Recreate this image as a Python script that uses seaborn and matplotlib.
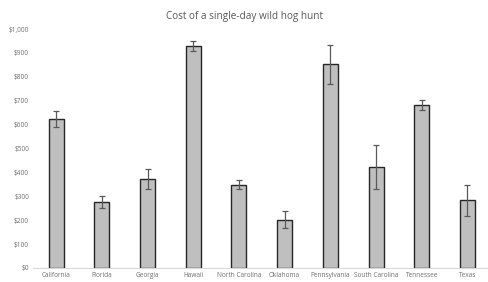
import pandas as pd
import matplotlib
matplotlib.use("Agg")
import matplotlib.pyplot as plt
import seaborn as sns
from matplotlib.ticker import FuncFormatter

# values
states = ["California", "Florida", "Georgia", "Hawaii", "North Carolina",
          "Oklahoma", "Pennsylvania", "South Carolina", "Tennessee", "Texas"]
cost = [622, 275, 372, 929, 349, 202, 852, 424, 683, 283]
err = [33, 24, 40, 20, 20, 37, 81, 92, 22, 64]

df = pd.DataFrame({"state": states, "cost": cost})

sns.set_style("white")
plt.rcParams["font.family"] = ["Open Sans", "DejaVu Sans"]

fig = plt.figure(figsize=(4.89, 2.82), dpi=100)
ax = fig.add_axes([0.068, 0.05, 0.93, 0.847])

sns.barplot(data=df, x="state", y="cost", color="#bfbfbf", width=0.33,
            edgecolor="#262626", linewidth=1.0, errorbar=None, saturation=1, ax=ax)
ax.errorbar(range(len(states)), cost, yerr=err, fmt="none", ecolor="#595959",
            elinewidth=0.9, capsize=2, capthick=0.9)

ax.set_ylim(0, 1000)
ax.set_xlim(-0.5, len(states) - 0.55)
ax.set_yticks(range(0, 1001, 100))
ax.yaxis.set_major_formatter(FuncFormatter(lambda v, p: f"${v:,.0f}"))
ax.set_xlabel("")
ax.set_ylabel("")
ax.tick_params(axis="both", labelsize=4.7, colors="#707070", length=0, pad=3)
for s in ["top", "right", "left"]:
    ax.spines[s].set_visible(False)
ax.spines["bottom"].set_color("#d9d9d9")
ax.spines["bottom"].set_linewidth(0.8)

fig.suptitle("Cost of a single-day wild hog hunt", y=0.96, fontsize=7.2, color="#595959")

fig.savefig("out.png", dpi=100)
